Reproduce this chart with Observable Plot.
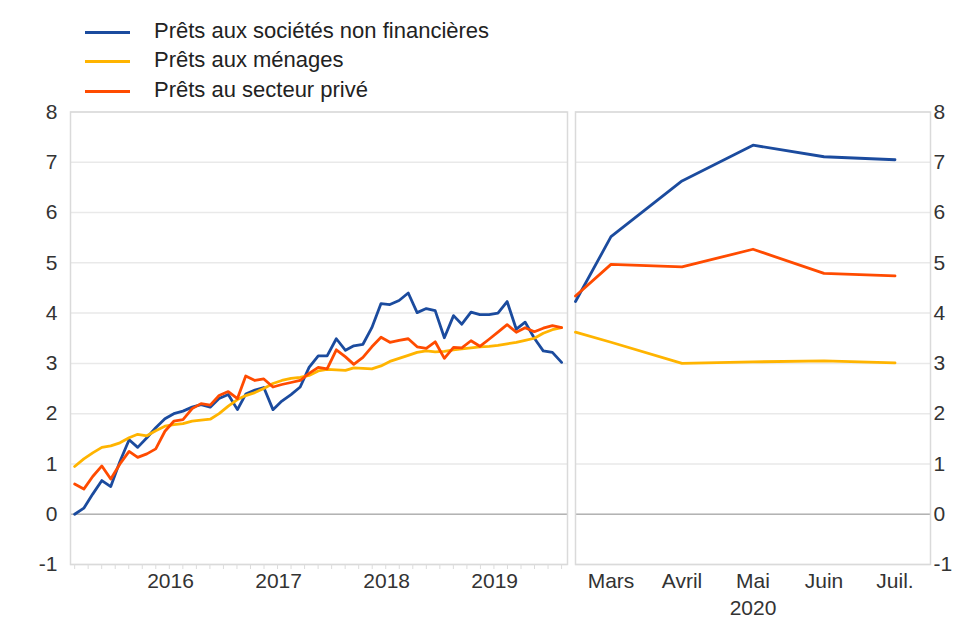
<!DOCTYPE html>
<html><head><meta charset="utf-8">
<script src="https://cdn.jsdelivr.net/npm/d3@7"></script>
<script src="https://cdn.jsdelivr.net/npm/@observablehq/plot@0.6"></script>
<style>
body{margin:0;background:#fff;font-family:"Liberation Sans",Arial,sans-serif;}
#wrap{position:relative;width:979px;height:620px;overflow:hidden;background:#fff;}
.part{position:absolute;top:100px;}
.sw{position:absolute;left:85px;width:45px;height:3px;}
.lab{position:absolute;left:154px;font-size:22px;line-height:26px;color:#222;white-space:nowrap;}
</style></head>
<body><div id="wrap"></div>
<script>
// ---- data ----
const seriesNames = ["Prêts aux sociétés non financières", "Prêts aux ménages", "Prêts au secteur privé"];
const seriesColors = ["#1b4b9e", "#ffb400", "#ff4b00"];

// monthly, Aug 2015 – Feb 2020
const months = d3.utcMonths(new Date(Date.UTC(2015, 7, 1)), new Date(Date.UTC(2020, 2, 1)));
const nfc = [0.0, 0.12, 0.4, 0.67, 0.55, 1.05, 1.48, 1.33, 1.52, 1.72, 1.9, 2.0, 2.05, 2.13,
             2.18, 2.13, 2.3, 2.38, 2.08, 2.39, 2.47, 2.52, 2.08, 2.25, 2.38, 2.53, 2.92,
             3.15, 3.15, 3.49, 3.26, 3.35, 3.38, 3.71, 4.19, 4.17, 4.25, 4.4, 4.01, 4.09,
             4.05, 3.51, 3.95, 3.78, 4.02, 3.97, 3.97, 4.0, 4.23, 3.68, 3.82, 3.5, 3.25, 3.22, 3.02];
const hh  = [0.95, 1.1, 1.22, 1.33, 1.36, 1.42, 1.52, 1.59, 1.56, 1.66, 1.75, 1.78, 1.8, 1.85,
             1.87, 1.89, 2.0, 2.15, 2.28, 2.36, 2.42, 2.5, 2.6, 2.66, 2.7, 2.72, 2.76,
             2.85, 2.88, 2.87, 2.86, 2.91, 2.9, 2.89, 2.95, 3.04, 3.1, 3.16, 3.22, 3.25,
             3.23, 3.24, 3.27, 3.29, 3.31, 3.33, 3.34, 3.36, 3.39, 3.42, 3.46, 3.5, 3.6, 3.67, 3.71];
const ps  = [0.6, 0.5, 0.75, 0.96, 0.7, 1.0, 1.25, 1.13, 1.2, 1.3, 1.65, 1.85, 1.88, 2.1,
             2.2, 2.17, 2.36, 2.44, 2.3, 2.75, 2.66, 2.69, 2.53, 2.58, 2.62, 2.66, 2.8,
             2.92, 2.89, 3.27, 3.13, 2.98, 3.12, 3.33, 3.52, 3.42, 3.46, 3.49, 3.33, 3.3,
             3.43, 3.1, 3.32, 3.31, 3.45, 3.34, 3.48, 3.62, 3.77, 3.62, 3.71, 3.63, 3.7, 3.75, 3.71];

// 2020 panel (position in months; first point at the panel's left edge)
const rightX = [2.5, 3, 4, 5, 6, 7];
const nfc2 = [4.23, 5.52, 6.63, 7.34, 7.11, 7.05];
const hh2  = [3.62, 3.42, 3.0, 3.03, 3.05, 3.01];
const ps2  = [4.34, 4.97, 4.92, 5.27, 4.79, 4.74];
const rightTicks = [3, 4, 5, 6, 7];
const rightLabels = ["Mars", "Avril", "Mai", "Juin", "Juil."];

const yTicks = [-1, 0, 1, 2, 3, 4, 5, 6, 7, 8];
const years = [2016, 2017, 2018, 2019];

// ---- layout ----
const wrap = document.getElementById("wrap");
const font = '"Liberation Sans", Arial, sans-serif';
const style = {fontFamily: font, fontSize: "21px", color: "#333", background: "transparent", overflow: "visible"};
const H = 520, mT = 11.5, mB = 56;
const gridMarks = () => [
  Plot.gridY(yTicks, {stroke: "#e9e9e9", strokeOpacity: 1, strokeWidth: 1.5}),
  Plot.ruleY([0], {stroke: "#b3b3b3", strokeWidth: 1.5}),
  Plot.frame({stroke: "#dadada", strokeWidth: 1.5})
];

const t0 = Date.UTC(2015, 7, 1), t1 = Date.UTC(2020, 1, 1);
const minorTicks = d3.range(0, 37).map(i => new Date(t0 + i * (t1 - t0) / 36));
const yearTicks = years.map(y => new Date(Date.UTC(y, 5, 20)));

const left = Plot.plot({
  width: 570, height: H,
  marginLeft: 70, marginRight: 3, marginTop: mT, marginBottom: mB,
  style,
  x: {type: "utc", domain: [new Date(Date.UTC(2015, 6, 18)), new Date(Date.UTC(2020, 1, 21))]},
  y: {domain: [-1, 8]},
  marks: [
    ...gridMarks(),
    Plot.axisY(yTicks, {anchor: "left", tickSize: 0, tickPadding: 13, tickFormat: d => String(d), fill: "#333"}),
    Plot.axisX(minorTicks, {anchor: "bottom", tickSize: 5, stroke: "#dcdcdc", tickFormat: () => ""}),
    Plot.axisX(yearTicks, {anchor: "bottom", tickSize: 0, tickPadding: 9, tickFormat: d => String(d.getUTCFullYear()), fill: "#333"}),
    Plot.line(months, {x: d => d, y: nfc, stroke: seriesColors[0], strokeWidth: 2.8}),
    Plot.line(months, {x: d => d, y: hh, stroke: seriesColors[1], strokeWidth: 2.8}),
    Plot.line(months, {x: d => d, y: ps, stroke: seriesColors[2], strokeWidth: 2.8})
  ]
});
left.classList.add("part");
left.style.left = "0px";
wrap.appendChild(left);

const right = Plot.plot({
  width: 409, height: H,
  marginLeft: 5, marginRight: 49, marginTop: mT, marginBottom: mB,
  style,
  x: {domain: [2.5, 7.5]},
  y: {domain: [-1, 8]},
  marks: [
    ...gridMarks(),
    Plot.axisY(yTicks, {anchor: "right", tickSize: 0, tickPadding: 3, tickFormat: d => String(d), fill: "#333"}),
    Plot.axisX(rightTicks, {anchor: "bottom", tickSize: 0, tickPadding: 9, tickFormat: d => rightLabels[rightTicks.indexOf(d)], fill: "#333"}),
    Plot.axisX([5], {anchor: "bottom", tickSize: 0, tickPadding: 35.5, tickFormat: () => "2020", fill: "#333"}),
    Plot.line(rightX, {x: d => d, y: nfc2, stroke: seriesColors[0], strokeWidth: 2.8}),
    Plot.line(rightX, {x: d => d, y: hh2, stroke: seriesColors[1], strokeWidth: 2.8}),
    Plot.line(rightX, {x: d => d, y: ps2, stroke: seriesColors[2], strokeWidth: 2.8})
  ]
});
right.classList.add("part");
right.style.left = "570px";
wrap.appendChild(right);

// legend
seriesNames.forEach((name, i) => {
  const cy = 31 + i * 29.8;
  const sw = document.createElement("div");
  sw.className = "sw";
  sw.style.top = (cy - 0.5) + "px";
  sw.style.background = seriesColors[i];
  wrap.appendChild(sw);
  const lab = document.createElement("div");
  lab.className = "lab";
  lab.style.top = (cy - 13.5) + "px";
  lab.textContent = name;
  wrap.appendChild(lab);
});
</script>
</body></html>
